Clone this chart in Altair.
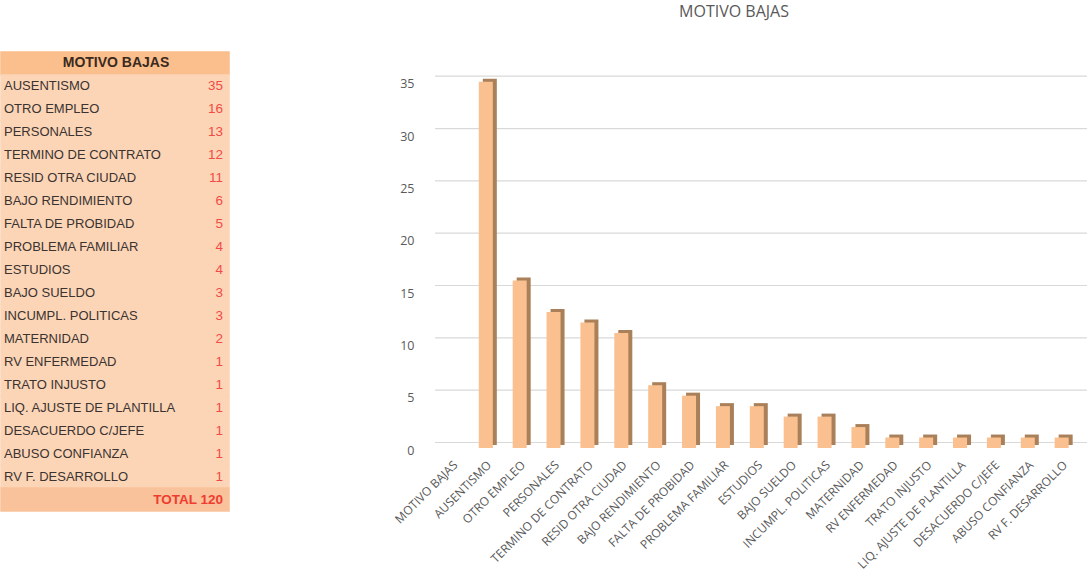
import altair as alt
import pandas as pd

categories = ["MOTIVO BAJAS", "AUSENTISMO", "OTRO EMPLEO", "PERSONALES", "TERMINO DE CONTRATO",
              "RESID OTRA CIUDAD", "BAJO RENDIMIENTO", "FALTA DE PROBIDAD", "PROBLEMA FAMILIAR",
              "ESTUDIOS", "BAJO SUELDO", "INCUMPL. POLITICAS", "MATERNIDAD", "RV ENFERMEDAD",
              "TRATO INJUSTO", "LIQ. AJUSTE DE PLANTILLA", "DESACUERDO C/JEFE", "ABUSO CONFIANZA",
              "RV F. DESARROLLO"]
values = [None, 35, 16, 13, 12, 11, 6, 5, 4, 4, 3, 3, 2, 1, 1, 1, 1, 1, 1]
y_ticks = [0, 5, 10, 15, 20, 25, 30, 35]
table_title = "MOTIVO BAJAS"
total_label = "TOTAL  120"

# ---------- bar chart ----------
bars_df = pd.DataFrame({"motivo": categories, "n": values})
grid_df = pd.DataFrame({"t": y_ticks})

xenc = alt.X("motivo:N", sort=categories,
             scale=alt.Scale(domain=categories, paddingInner=0, paddingOuter=0.124, align=0),
             axis=alt.Axis(title=None, labelAngle=-45, domain=False, ticks=False, labelPadding=11,
                           labelFont="Open Sans", labelFontSize=12, labelColor="#595959",
                           labelLimit=300))
yscale = alt.Scale(domain=[0, 37.84], nice=False, zero=True)

grid = alt.Chart(grid_df).mark_rule(color="#d9d9d9", strokeWidth=1.2, yOffset=-5.5).encode(
    y=alt.Y("t:Q", scale=yscale,
            axis=alt.Axis(title=None, values=y_ticks, grid=False, domain=False, ticks=False,
                          labelPadding=21, labelOffset=2, labelFont="Open Sans",
                          labelFontSize=12.5, labelColor="#595959"))
)
back = alt.Chart(bars_df).mark_bar(width=14, color="#a98059", xOffset=4, yOffset=-3).encode(
    x=xenc, y=alt.Y("n:Q", scale=yscale))
front = alt.Chart(bars_df).mark_bar(width=14, color="#fac08f").encode(
    x=xenc, y=alt.Y("n:Q", scale=yscale))

bar_chart = alt.layer(grid, back, front).properties(
    width=652, height=396,
    title=alt.TitleParams("MOTIVO BAJAS", font="Open Sans", fontSize=16, fontWeight="normal",
                          color="#595959", offset=32, dx=-27, anchor="middle"),
)

# ---------- table ----------
rows = [table_title] + categories[1:] + [total_label]
row_type = ["header"] + ["body"] * (len(categories) - 1) + ["total"]
row_vals = [""] + [str(v) for v in values[1:]] + [""]
table_df = pd.DataFrame({"i": list(range(len(rows))), "label": rows, "val": row_vals, "kind": row_type})

yrow = alt.Y("i:O", axis=None, scale=alt.Scale(paddingInner=0, paddingOuter=0))
kind_scale = alt.Scale(domain=["header", "body", "total"],
                       range=["#fabf8c", "#fcd5b7", "#f9c29a"])
bg = alt.Chart(table_df).mark_rect(strokeWidth=1.5).encode(
    y=yrow,
    color=alt.Color("kind:N", legend=None, scale=kind_scale),
    stroke=alt.Stroke("kind:N", legend=None, scale=kind_scale),
)
body_txt = alt.Chart(table_df).transform_filter(alt.datum.kind == "body").mark_text(
    align="left", font="Liberation Sans", fontSize=13, color="#3b3330").encode(
    y=yrow, x=alt.value(3), text="label:N")
val_txt = alt.Chart(table_df).transform_filter(alt.datum.kind == "body").mark_text(
    align="right", font="Liberation Sans", fontSize=13.5, color="#f24b45").encode(
    y=yrow, x=alt.value(222), text="val:N")
head_txt = alt.Chart(table_df).transform_filter(alt.datum.kind == "header").mark_text(
    align="center", font="Liberation Sans", fontSize=14, fontWeight="bold", color="#3b2a20").encode(
    y=yrow, x=alt.value(115), text="label:N")
tot_txt = alt.Chart(table_df).transform_filter(alt.datum.kind == "total").mark_text(
    align="right", font="Liberation Sans", fontSize=13.5, fontWeight="bold", color="#f03c30").encode(
    y=yrow, x=alt.value(222), text="label:N")

table = alt.layer(bg, body_txt, val_txt, head_txt, tot_txt).properties(width=228, height=459)

chart = alt.hconcat(table, bar_chart, spacing=206, bounds="flush").properties(
    padding={"left": 0, "top": 4, "right": 0, "bottom": 0}
).configure_view(stroke=None)

chart.save("out.html", embed_options={"renderer": "svg", "actions": False})
